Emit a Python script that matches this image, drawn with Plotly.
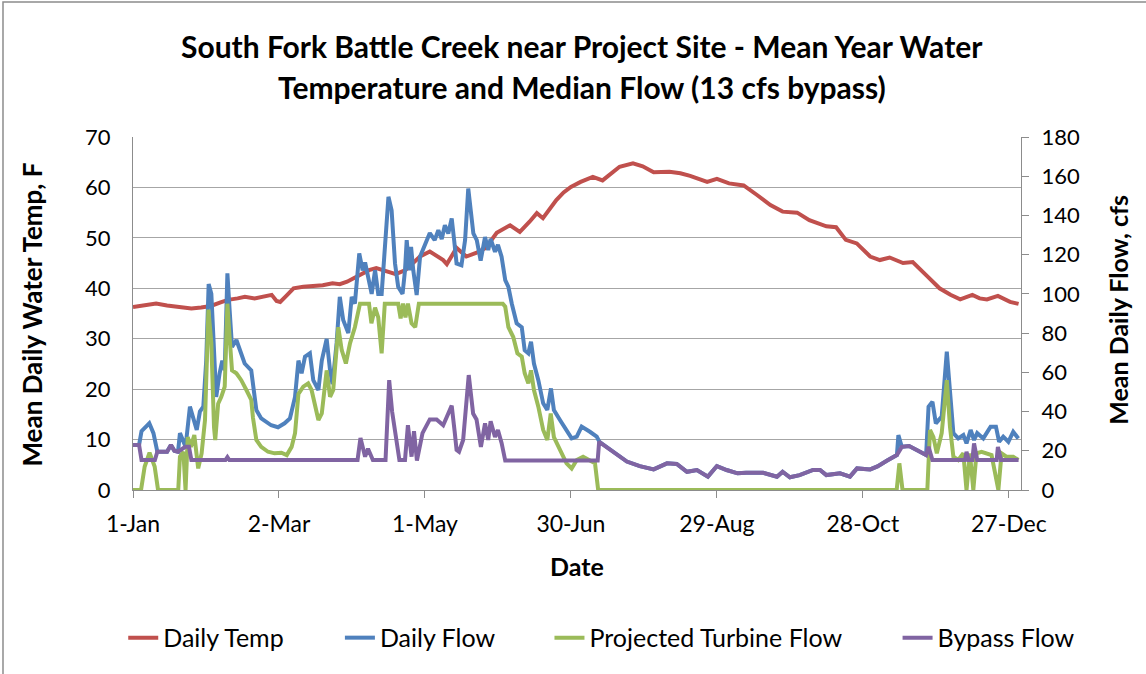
import plotly.graph_objects as go

# ---------------- data ----------------
tick_days = [0, 60, 120, 180, 240, 300, 360]
tick_labels = ["1-Jan", "2-Mar", "1-May", "30-Jun", "29-Aug", "28-Oct", "27-Dec"]

temp_days = [0, 4, 9.5, 14, 18, 24, 28, 32, 36, 39, 43, 46, 50, 53, 57, 59, 60.5, 63, 66, 70,
             74, 78, 82, 85, 88, 91, 93, 97, 100, 104, 108, 112, 115, 118, 122, 125, 127.5, 129,
             133, 137, 141, 145, 149.5, 155, 159, 163, 166, 168.5, 171, 174, 177, 180, 184, 189,
             193, 196, 200, 205.5, 209.5, 214, 220.5, 225, 229, 236, 240, 245, 251, 256.5, 262,
             267, 273, 278, 285, 289, 293, 297.5, 303, 307, 311, 316.5, 320.5, 326, 331.5, 336,
             340, 345, 348, 351, 355.5, 360.5, 364]
temp_f = [36.3, 36.6, 37.0, 36.6, 36.4, 36.0, 36.2, 36.5, 37.2, 37.7, 38.0, 38.3, 38.0, 38.3,
          38.7, 37.5, 37.3, 38.5, 40.0, 40.3, 40.5, 40.6, 41.0, 40.8, 41.3, 42.0, 42.6, 43.6,
          44.0, 43.3, 42.8, 43.6, 45.0, 46.3, 47.3, 46.3, 45.6, 44.8, 48.0, 46.3, 47.0, 48.0,
          51.0, 52.5, 51.2, 53.2, 54.9, 53.9, 55.5, 57.5, 59.0, 60.1, 61.1, 62.1, 61.4, 62.5,
          64.1, 64.8, 64.2, 63.0, 63.1, 62.8, 62.3, 61.1, 61.7, 60.8, 60.4, 58.5, 56.5, 55.2,
          55.0, 53.5, 52.3, 52.1, 49.6, 48.9, 46.3, 45.6, 46.1, 45.0, 45.2, 42.6, 40.0, 38.7,
          37.8, 38.7, 38.0, 37.8, 38.5, 37.3, 36.9]

flow_days = [0, 2.5, 3.5, 6.7, 8.4, 10, 14, 15.6, 17, 18.5, 19.3, 20.7, 21.6, 23.4, 24.8, 26.2,
             27.5, 28.9, 30.1, 31.1, 32.2, 33.3, 34.2, 35.6, 36.7, 37.7, 38.8, 39.7, 40.7, 42.5,
             43.8, 45.9, 48.6, 49.7, 50.7, 52.7, 56.8, 59.6, 62.3, 64.5, 66.6, 68, 69.3, 70.7,
             72.7, 74.1, 76.2, 77.6, 79.6, 81, 82, 83.7, 85, 86.4, 88.5, 89.9, 91.2, 93, 94.4,
             95.4, 96.7, 98.1, 99.5, 100.8, 102.2, 103.6, 105, 106.3, 107.7, 109, 110.8, 111.8,
             112.5, 113.6, 114.3, 115.2, 116.6, 118, 120, 122, 124, 125.5, 126.9, 128.2, 129.6,
             131, 132, 133, 135, 136.5, 137.8, 138.8, 139.9, 141.3, 142.9, 144.7, 146, 147,
             148.8, 150, 151.5, 153, 154.3, 155.7, 157.7, 159.8, 161, 162.5, 163.6, 164.8,
             166.6, 168.6, 170.3, 171.8, 173, 175.5, 178.2, 180.3, 182.4, 184.4, 187.8, 190.6,
             191.7, 197.4, 203, 208.3, 214, 219.5, 223.5, 227.7, 231.8, 236.3, 240, 244, 248.5,
             252, 259, 264.7, 267, 270, 274, 279.5, 282.4, 285, 290.6, 294.7, 297.6, 303, 306,
             310, 314, 314.6, 316, 319, 323.5, 326, 327, 328.6, 330, 332.4, 334.5, 335.8, 337.2,
             339.2, 341.3, 342.6, 344.3, 345.7, 347, 349.5, 352.5, 354.7, 356, 357.7, 359.8,
             361.8, 363.9]
flow_cfs = [23, 23, 30, 34, 29, 19.5, 19.5, 23, 20, 19.5, 29, 24.6, 22, 42.5, 37, 30.6,
            40, 42.5, 66, 105, 100, 66, 47.5, 59.5, 66, 61, 110.5, 92, 73, 76.5,
            72, 64.5, 61, 49, 40.8, 36.5, 33, 32, 34, 36.5, 47.5, 66, 59.5, 68,
            69.7, 56, 51, 66, 77, 61, 54, 75, 98.5, 86.7, 80, 98.5, 95, 120.6, 112,
            116, 108.7, 100, 112, 100, 100, 122, 149.5, 142.6, 115.5, 103.6, 100, 112,
            127.4, 112, 124, 112, 99.4, 119, 125.7, 131, 127.4, 132.5, 128, 135, 130.8,
            138.5, 127.4, 115.5, 114.6, 127.4, 153.7, 142.6, 130.8, 127.4, 117, 129, 122.4, 128,
            121.5, 125, 119, 107, 103.6, 95, 85, 83, 71.3, 69.7, 75.6, 64.5,
            56, 44.2, 40.8, 51.8, 40.8, 35.7, 30.6, 26.3, 27.2, 32.3, 29.7, 27.2,
            24.6, 19.5, 14.5, 12.2, 10.5, 13.6, 13.3, 9.3, 10.2, 6.8, 12.2, 10.2, 8.5,
            8.8, 8.8, 6.8, 9.3, 6.5, 7.6, 10.2, 10.2, 7.6, 8.5, 6.8, 11, 10.5, 12,
            15, 17.8, 28, 22, 22.4, 19.5, 17.8, 42.5, 45, 34, 37.4, 70.5, 47.5, 29,
            26.3, 28, 23.8, 30.6, 25.5, 29, 26.3, 32.3, 32.3, 24.6, 27.2, 24.6,
            29.7, 26.3]

turbine_days = [0, 3.3, 4.8, 6.8, 8.9, 10.3, 18.6, 19.3, 20.7, 21.6, 22.5, 23.8, 25.2, 26.8,
                28.2, 29.6, 31, 32.2, 33.3, 33.8, 35, 36.3, 37.7, 38.8, 39.7, 40.7, 42.5, 44.5,
                46.6, 48.6, 49.3, 50.7, 52.7, 55.5, 58.2, 61, 63.2, 65.2, 66.6, 68, 70, 72,
                73.4, 74.8, 76.2, 77.6, 79.6, 81, 82.3, 84.4, 85.8, 87.5, 89.2, 91.2, 93.3, 97,
                98, 99.5, 100.8, 102.2, 103.5, 109, 110, 111, 112, 113, 114.5, 116, 117.5, 152,
                153, 154.3, 156.3, 158, 159.8, 161, 162.5, 163.6, 164.8, 166.6, 168.6, 170.3,
                171.7, 173, 175.5, 178.2, 180.3, 182.4, 185, 187.8, 189.9, 191.2, 313.9, 315,
                316.3, 326.5, 327.6, 329, 330.4, 332.4, 334.5, 335.8, 337.2, 339.2, 341.3,
                342.6, 344, 345.4, 346.7, 348.8, 350.9, 352.9, 355.7, 357, 359, 361.8, 363.9]
turbine_cfs = [0, 0, 12, 19, 12, 0, 0, 17, 19.5, 0, 27, 22, 28, 11,
               18.7, 35.7, 92, 75, 32, 25.5, 44, 47.5, 52.7, 95, 78, 61, 59.5, 56,
               51, 46, 37, 25.5, 22, 19.5, 18.7, 19, 17.8, 22, 29, 49, 52.7, 54.4,
               51, 42.5, 35.7, 39, 61, 47.5, 51, 83, 71.3, 64.5, 74.8, 83, 95, 95,
               85, 93, 88, 69.7, 95, 95, 87.5, 95, 88, 95, 85, 83, 95, 95,
               93.5, 83, 78, 69.7, 68, 59.5, 54.4, 61, 51, 42.5, 30.6, 25.5,
               39, 27, 20.4, 13.6, 11, 15.3, 17, 15.3, 13.6, 0, 0, 13.6,
               0, 0, 30.6, 27, 18.7, 29, 56, 32.3, 17, 15.3, 18.7,
               0, 18.7, 0, 18.7, 19.5, 18.7, 17.8, 0, 18.7, 17, 17, 15.3]

bypass_days = [0, 2.5, 3.5, 9, 10, 14, 15.6, 17, 18.5, 20, 21.5, 23, 24, 38, 38.8, 39.6, 92.3,
               93.5, 95.4, 96.6, 98.6, 103.8, 105.3, 106.5, 107.7, 109.5, 111.8, 113, 114.5,
               115.5, 116.7, 118, 119, 122, 124.8, 127.5, 129, 131, 132.2, 133, 134, 135.7, 138,
               139.8, 141.2, 143, 144.7, 146, 147, 148.8, 150, 151.5, 153, 191, 191.6, 197.4,
               203, 208.3, 214, 219.5, 223.5, 227.7, 231.8, 236.3, 240, 244, 248.5, 252, 259,
               264.7, 267, 270, 274, 279.5, 282.4, 285, 290.6, 294.7, 297.6, 303, 306, 310, 314,
               316, 319, 323.5, 326, 327, 328.6, 342, 342.6, 343.5, 345, 345.7, 347, 355, 355.5,
               356.8, 364]
bypass_cfs = [23, 23, 15.3, 15.3, 19.5, 19.5, 23, 20, 19.5, 20.5, 22, 22, 15.3, 15.3, 16.8,
              15.3, 15.3, 26.5, 17, 21, 15.3, 15.3, 56, 40, 30, 15.3, 15.3, 33, 17,
              30, 15, 22, 29, 36, 36, 33, 37, 43, 30, 20.4, 19.5, 25.5, 58.6,
              39, 36, 22, 34, 25.5, 35, 27, 30.6, 24, 15, 15, 24.6, 19.5,
              14.5, 12.2, 10.5, 13.6, 13.3, 9.3, 10.2, 6.8, 12.2, 10.2, 8.5, 8.8, 8.8,
              6.8, 9.3, 6.5, 7.6, 10.2, 10.2, 7.6, 8.5, 6.8, 11, 10.5, 12, 15, 17.8,
              22, 22.4, 19.5, 17.8, 22, 15.3, 15.3, 19.5, 15.3, 15.3, 23.8, 15.3, 15.3, 22,
              15.3, 15.3]

# ---------------- figure ----------------
FONT = "Lato"
GRID = "#a6a6a6"
AXIS = "#8c8c8c"
LW = 4

fig = go.Figure()
fig.add_trace(go.Scatter(x=temp_days, y=temp_f, name="Daily Temp", mode="lines",
                         line=dict(color="#C0504D", width=LW), yaxis="y", legend="legend"))
fig.add_trace(go.Scatter(x=flow_days, y=flow_cfs, name="Daily Flow", mode="lines",
                         line=dict(color="#4F81BD", width=LW), yaxis="y2", legend="legend2"))
fig.add_trace(go.Scatter(x=turbine_days, y=turbine_cfs, name="Projected Turbine Flow",
                         mode="lines", line=dict(color="#9BBB59", width=LW), yaxis="y2",
                         legend="legend3"))
fig.add_trace(go.Scatter(x=bypass_days, y=bypass_cfs, name="Bypass Flow", mode="lines",
                         line=dict(color="#8064A2", width=LW), yaxis="y2", legend="legend4"))


def leg(xp):
    return dict(orientation="h", x=xp, xanchor="left", y=-0.419, yanchor="middle",
                font=dict(family=FONT, size=25), bgcolor="rgba(0,0,0,0)", borderwidth=0,
                itemwidth=30)


fig.update_layout(
    width=1146, height=674,
    margin=dict(l=133, r=125, t=137, b=184),
    paper_bgcolor="white", plot_bgcolor="white",
    font=dict(family=FONT, size=22, color="black"),
    showlegend=True,
    legend=leg(-0.011), legend2=leg(0.233), legend3=leg(0.469), legend4=leg(0.861),
    xaxis=dict(range=[0, 365], tickvals=tick_days, ticktext=tick_labels,
               showgrid=False, zeroline=False, showline=True, linecolor=AXIS, linewidth=1,
               ticks="outside", ticklen=7, tickcolor=AXIS, ticklabelstandoff=6,
               tickfont=dict(size=23)),
    yaxis=dict(range=[0, 70], dtick=10, showgrid=True, gridcolor=GRID, gridwidth=1,
               zeroline=False, showline=True, linecolor=AXIS, linewidth=1,
               ticks="", ticklabelstandoff=17, tickfont=dict(size=22)),
    yaxis2=dict(range=[0, 180], dtick=20, overlaying="y", side="right", showgrid=False,
                zeroline=False, showline=True, linecolor=AXIS, linewidth=1,
                ticks="outside", ticklen=7, tickcolor=AXIS, ticklabelstandoff=8,
                tickfont=dict(size=22)),
    annotations=[
        dict(text="<b>South Fork Battle Creek near Project Site - Mean Year Water</b>",
             x=0.5056, y=1.257, xref="paper", yref="paper", showarrow=False,
             font=dict(size=30, family=FONT), xanchor="center", yanchor="middle"),
        dict(text="<b>Temperature and Median Flow (13 cfs bypass)</b>",
             x=0.5056, y=1.142, xref="paper", yref="paper", showarrow=False,
             font=dict(size=30, family=FONT), xanchor="center", yanchor="middle"),
        dict(text="<b>Mean Daily Water Temp, F</b>", textangle=-90,
             x=-0.1137, y=0.497, xref="paper", yref="paper", showarrow=False,
             font=dict(size=26, family=FONT), xanchor="center", yanchor="middle"),
        dict(text="<b>Mean Daily Flow, cfs</b>", textangle=-90,
             x=1.109, y=0.51, xref="paper", yref="paper", showarrow=False,
             font=dict(size=25, family=FONT), xanchor="center", yanchor="middle"),
        dict(text="<b>Date</b>", x=0.5, y=-0.215, xref="paper", yref="paper",
             showarrow=False, font=dict(size=25, family=FONT),
             xanchor="center", yanchor="middle"),
    ],
    shapes=[dict(type="rect", xref="paper", yref="paper", x0=-0.1464, x1=1.16,
                 y0=-0.56, y1=1.3824, line=dict(color="#8c8c8c", width=1.5),
                 fillcolor="rgba(0,0,0,0)", layer="below")],
)

fig.write_html("out.html", config={"displayModeBar": False},
               post_script="document.body.style.margin='0';")
